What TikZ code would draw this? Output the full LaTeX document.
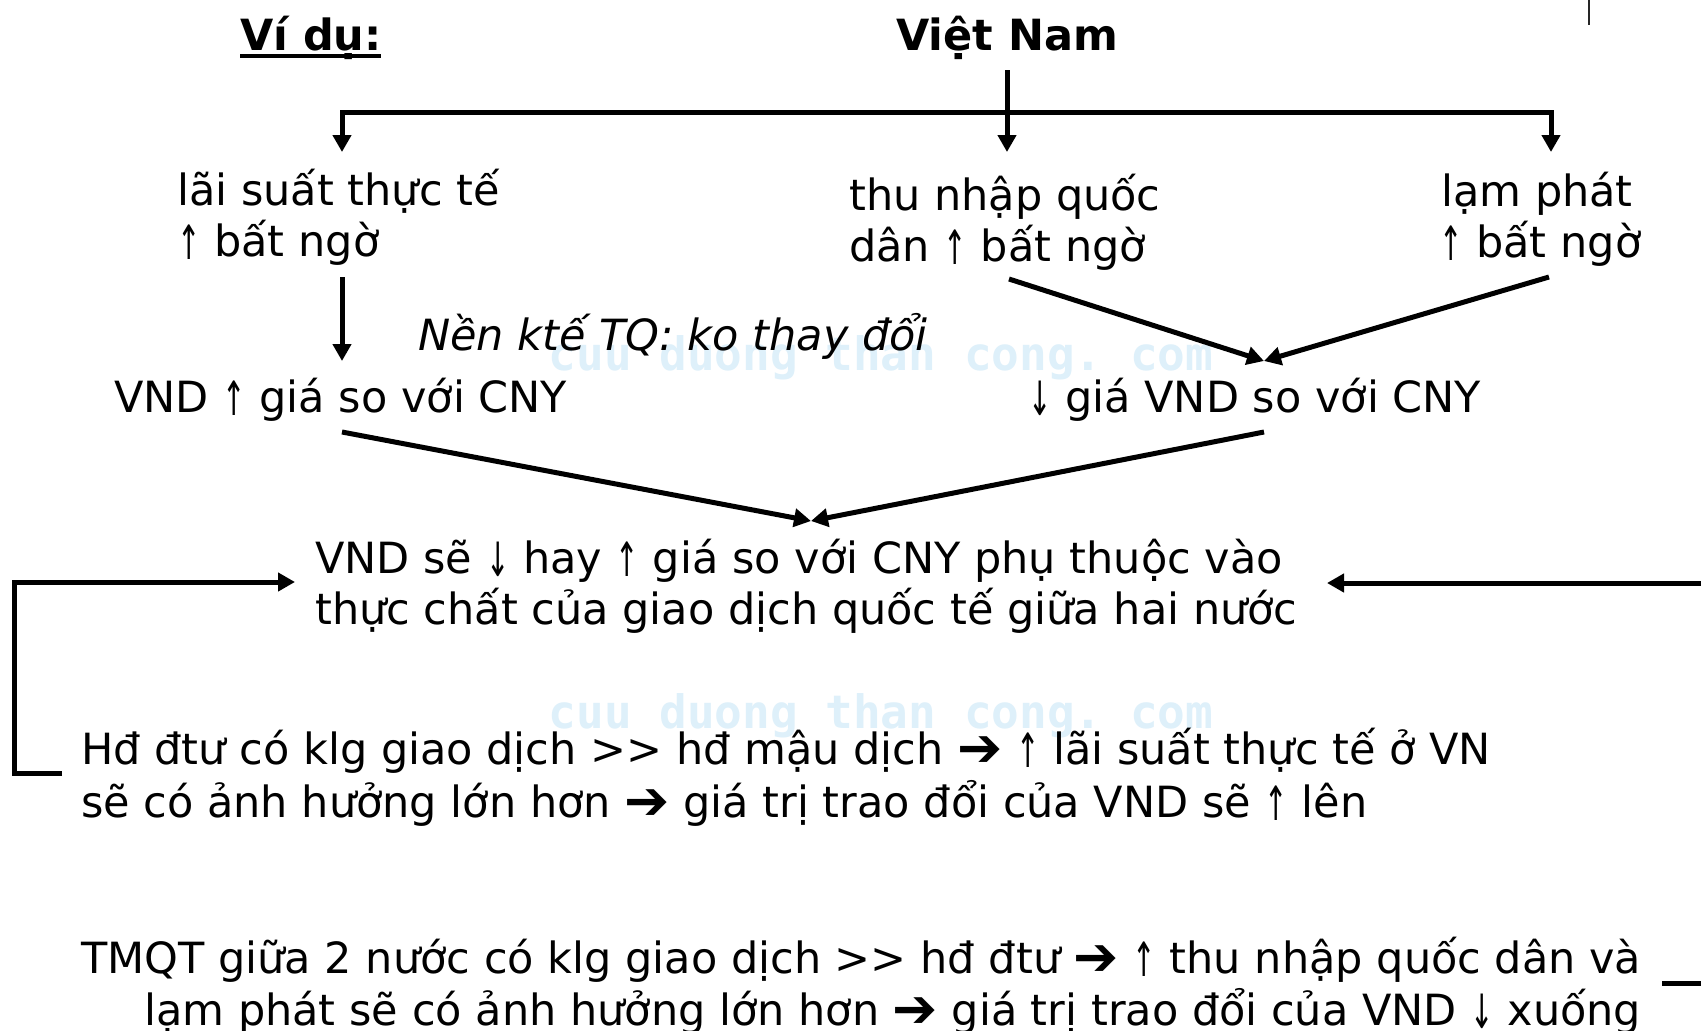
\documentclass[tikz,border=0pt]{standalone}
\usepackage{fontspec}
\setmainfont{DejaVu Sans}
\setmonofont{DejaVu Sans Mono}
\newcommand{\myup}{\raisebox{-3pt}{\scalebox{0.65}[1.1]{↑}}}
\newcommand{\mydn}{\raisebox{-3pt}{\scalebox{0.65}[1.1]{↓}}}
\newcommand{\myimp}{{\fontsize{54}{47}\selectfont\bfseries\raisebox{-2pt}{➔}}}
\usetikzlibrary{arrows.meta}
\definecolor{wmblue}{RGB}{222,240,250}
\begin{document}
\begin{tikzpicture}[x=1pt,y=-1pt,
  txt/.style={anchor=base west, inner sep=0pt, font=\fontsize{43}{47}\selectfont},
  btxt/.style={anchor=base, inner sep=0pt, font=\bfseries\fontsize{43}{47}\selectfont},
  conn/.style={line width=5pt, -{Triangle[length=17pt,width=18pt]}},
  plainline/.style={line width=5pt},
  wm/.style={anchor=center, inner sep=0pt, font=\ttfamily\bfseries\fontsize{46}{50}\selectfont, text=wmblue}]
\fill[white] (0,0) rectangle (1701,1031);
\useasboundingbox (0,0) rectangle (1701,1031);

% watermarks
\node[wm] (wm1) at (881,358) {cuu duong than cong. com};
\node[wm] (wm2) at (881,716) {cuu duong than cong. com};

% titles
\node[btxt] (vidu) at (311,50) {Ví dụ:};
\draw[line width=3.5pt] (vidu.base west) ++(0,6) -- ++(141,0);
\node[btxt] (vn) at (1007,50) {Việt Nam};

% factor texts
\node[txt] (ls1) at (177,205) {lãi suất thực tế};
\node[txt] (ls2) at (177,256) {\myup{} bất ngờ};
\node[txt] (tn1) at (849,210) {thu nhập quốc};
\node[txt] (tn2) at (849,261) {dân \myup{} bất ngờ};
\node[txt] (lp1) at (1441,206) {lạm phát};
\node[txt] (lp2) at (1439,257) {\myup{} bất ngờ};

\node[txt, font=\itshape\fontsize{43}{47}\selectfont] (nen) at (418,350) {Nền ktế TQ: ko thay đổi};
\node[txt] (vndup) at (114,412) {VND \myup{} giá so với CNY};
\node[txt] (vnddn) at (1028,412) {\mydn{} giá VND so với CNY};

\node[txt] (res1) at (315,573) {VND sẽ \mydn{} hay \myup{} giá so với CNY phụ thuộc vào};
\node[txt] (res2) at (315,624) {thực chất của giao dịch quốc tế giữa hai nước};

\node[txt] (hd1) at (81,764) {Hđ đtư có klg giao dịch >{}> hđ mậu dịch \myimp{} \myup{} lãi suất thực tế ở VN};
\node[txt] (hd2) at (81,817) {sẽ có ảnh hưởng lớn hơn \myimp{} giá trị trao đổi của VND sẽ \myup{} lên};

\node[txt] (tm1) at (81,973) {TMQT giữa 2 nước có klg giao dịch >{}> hđ đtư \myimp{} \myup{} thu nhập quốc dân và};
\node[txt] (tm2) at (144,1025) {lạm phát sẽ có ảnh hưởng lớn hơn \myimp{} giá trị trao đổi của VND \mydn{} xuống};

% connector coordinates
\coordinate (vnbot) at (1007,70);
\coordinate (brL) at (342,112);
\coordinate (brR) at (1551,112);
\coordinate (tipL) at (342,152);
\coordinate (tipM) at (1007,152);
\coordinate (tipR) at (1551,152);
\coordinate (lsb) at (342,277);
\coordinate (lst) at (342,361);
\coordinate (tnb) at (1009,279);
\coordinate (lpb) at (1549,277);
\coordinate (dnt) at (1264,361);
\coordinate (upb) at (342,432);
\coordinate (dnb) at (1264,432);
\coordinate (rest) at (811,521);
\coordinate (lbTop) at (14,582);
\coordinate (lbBot) at (14,773);
\coordinate (lbEnd) at (62,773);
\coordinate (lbTip) at (295,582);
\coordinate (rEdge) at (1701,583);
\coordinate (rTip) at (1327,583);
\coordinate (trA) at (1589,0);
\coordinate (trB) at (1589,25);
\coordinate (brA) at (1662,983);
\coordinate (brB) at (1701,983);

% tree from Viet Nam
\draw[conn] (vnbot) -- (tipM);
\draw[plainline, line cap=rect] (brL) -- (brR);
\draw[conn] (brL) -- (tipL);
\draw[conn] (brR) -- (tipR);

\draw[conn] (lsb) -- (lst);
\draw[conn] (tnb) -- (dnt);
\draw[conn] (lpb) -- (dnt);
\draw[conn] (upb) -- (rest);
\draw[conn] (dnb) -- (rest);

% side brackets
\draw[line width=5pt, line join=miter, -{Triangle[length=17pt,width=18pt]}] (lbEnd) -- (lbBot) -- (lbTop) -- (lbTip);
\draw[conn] (rEdge) -- (rTip);
\draw[line width=2.5pt, draw=black!85] (trA) -- (trB);
\draw[plainline] (brA) -- (brB);
\end{tikzpicture}
\end{document}
